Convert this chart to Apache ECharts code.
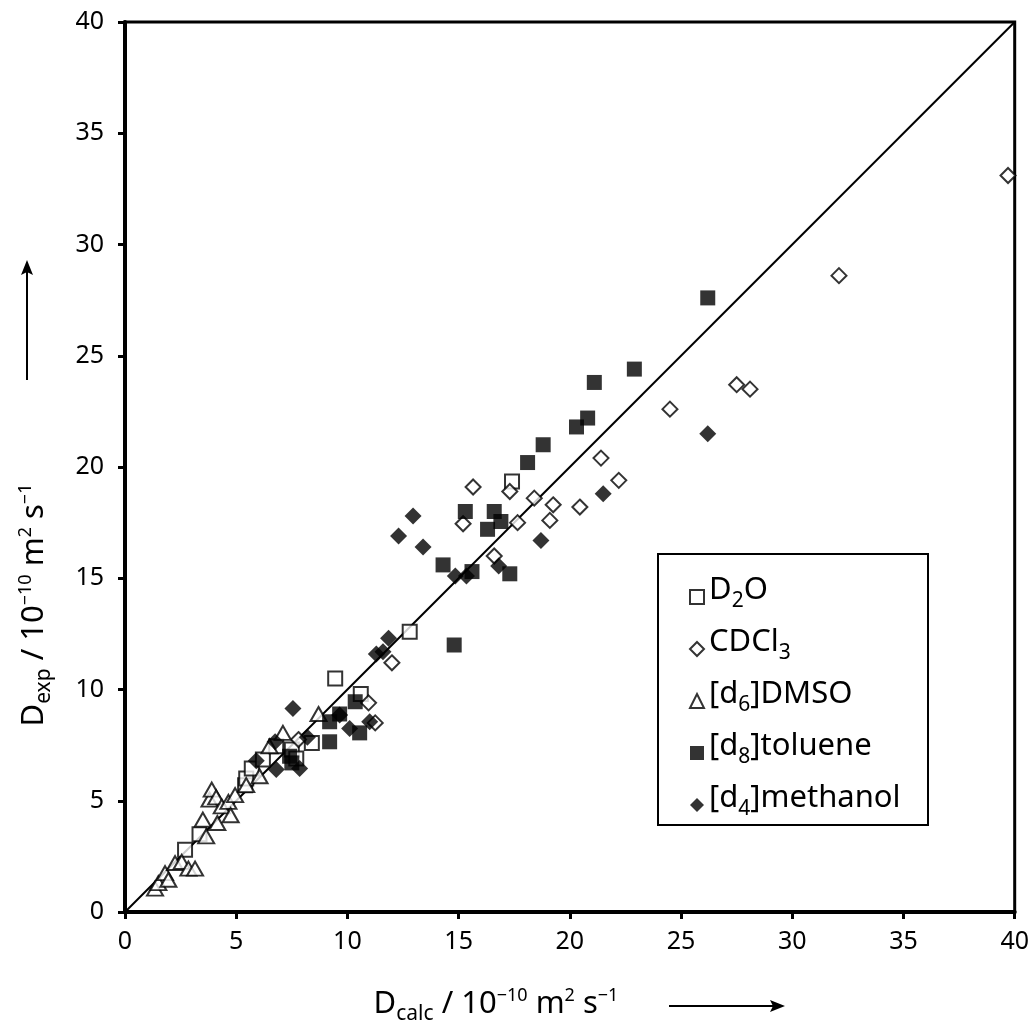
<!DOCTYPE html>
<html>
<head>
<meta charset="utf-8">
<script src="https://cdn.jsdelivr.net/npm/echarts@6/dist/echarts.min.js"></script>
<style>
  html, body { margin: 0; padding: 0; background: #ffffff; }
  #chart { width: 1032px; height: 1023px; }
</style>
</head>
<body>
<div id="chart"></div>
<script>
// Self-diffusion coefficients: [D_calc, D_exp] in 10^-10 m^2 s^-1
const d2oPoints = [
  [2.7, 2.8], [3.35, 3.5], [5.4, 5.7], [5.45, 6.0], [5.7, 6.45], [6.2, 6.85],
  [6.8, 7.45], [7.5, 7.3], [7.7, 6.9], [8.4, 7.6], [9.45, 10.5], [10.6, 9.8],
  [12.8, 12.6], [17.4, 19.35]
];
const cdcl3Points = [
  [7.8, 7.75], [10.95, 9.4], [11.25, 8.5], [12.0, 11.2], [15.2, 17.45], [15.65, 19.1],
  [16.6, 16.0], [17.3, 18.9], [17.65, 17.5], [18.4, 18.6], [19.1, 17.6], [19.25, 18.3],
  [20.45, 18.2], [21.4, 20.4], [22.2, 19.4], [24.5, 22.6], [27.5, 23.7], [28.1, 23.5],
  [32.1, 28.6], [39.7, 33.1]
];
const dmsoPoints = [
  [1.35, 1.05], [1.5, 1.3], [1.8, 1.75], [1.95, 1.45], [2.25, 2.2], [2.55, 2.25],
  [2.85, 1.95], [3.15, 1.95], [3.5, 4.15], [3.65, 3.4], [3.8, 5.05], [3.9, 5.5],
  [4.1, 5.15], [4.15, 4.0], [4.35, 4.75], [4.65, 4.95], [4.75, 4.35], [4.95, 5.25],
  [5.45, 5.7], [6.05, 6.1], [6.5, 7.45], [7.1, 8.05], [8.7, 8.9]
];
const toluenePoints = [
  [7.4, 7.0], [7.5, 6.7], [9.2, 7.65], [9.2, 8.55], [9.65, 8.9], [10.35, 9.45],
  [10.55, 8.05], [14.3, 15.6], [14.8, 12.0], [15.3, 18.0], [15.6, 15.3], [16.3, 17.2],
  [16.6, 18.0], [16.9, 17.55], [17.3, 15.2], [18.1, 20.2], [18.8, 21.0], [20.3, 21.8],
  [20.8, 22.2], [21.1, 23.8], [22.9, 24.4], [26.2, 27.6]
];
const methanolPoints = [
  [5.9, 6.8], [6.75, 7.65], [6.8, 6.4], [7.55, 9.15], [7.85, 6.45], [8.2, 7.85],
  [9.65, 8.85], [10.1, 8.25], [11.0, 8.55], [11.3, 11.6], [11.6, 11.7], [11.85, 12.3],
  [12.3, 16.9], [12.95, 17.8], [13.4, 16.4], [14.85, 15.1], [15.35, 15.1], [16.8, 15.55],
  [18.7, 16.7], [21.5, 18.8], [26.2, 21.5]
];
// y = x reference line
const identityLine = [[0, 0], [40, 40]];

// Axis range and tick step
const axisMin = 0;
const axisMax = 40;
const tickStep = 5;

// Series names and their rich-text legend labels
const seriesNames = ['D2O', 'CDCl3', '[d6]DMSO', '[d8]toluene', '[d4]methanol'];
const legendLabels = {
  'D2O': '{n|D}{sub|2}{n|O}',
  'CDCl3': '{n|CDCl}{sub|3}',
  '[d6]DMSO': '{n|[d}{sub|6}{n|]DMSO}',
  '[d8]toluene': '{n|[d}{sub|8}{n|]toluene}',
  '[d4]methanol': '{n|[d}{sub|4}{n|]methanol}'
};

const FONT = '"Noto Sans", "Open Sans", sans-serif';

const openStyle = { color: '#ffffff', borderColor: '#000000', borderWidth: 2 };
const filledStyle = { color: '#000000', borderColor: '#000000', borderWidth: 0 };

// Rich styles for axis titles (sub- and superscripts)
const titleRich = {
  n: { fontSize: 31, fontFamily: FONT, lineHeight: 31, padding: [4, 0, 0, 0], verticalAlign: 'top', color: '#000' },
  sub: { fontSize: 21, fontFamily: FONT, lineHeight: 21, padding: [19, 0, 0, 0], verticalAlign: 'top', color: '#000' },
  sup: { fontSize: 18, fontFamily: FONT, lineHeight: 18, padding: [2, 0, 0, 0], verticalAlign: 'top', color: '#000' }
};
const xTitleText = '{n|D}{sub|calc}{n| / 10}{sup|\u221210}{n| m}{sup|2}{n| s}{sup|\u22121}';
const yTitleText = '{n|D}{sub|exp}{n| / 10}{sup|\u221210}{n| m}{sup|2}{n| s}{sup|\u22121}';

const chart = echarts.init(document.getElementById('chart'), null, { renderer: 'canvas' });

function scatter(name, data, symbol, size, style) {
  return {
    name: name,
    type: 'scatter',
    data: data,
    symbol: symbol,
    symbolSize: size,
    itemStyle: style,
    emphasis: { disabled: true },
    z: 3
  };
}

const option = {
  backgroundColor: '#ffffff',
  animation: false,
  grid: {
    left: 125, top: 22, width: 890, height: 890,
    show: true, borderColor: '#000000', borderWidth: 3, backgroundColor: 'transparent'
  },
  xAxis: {
    type: 'value', min: axisMin, max: axisMax, interval: tickStep,
    axisLine: { show: true, lineStyle: { color: '#000', width: 4 } },
    axisTick: { show: true, length: 7, lineStyle: { color: '#000', width: 3 } },
    splitLine: { show: false },
    axisLabel: { color: '#000', fontSize: 25, fontFamily: FONT, margin: 17 }
  },
  yAxis: {
    type: 'value', min: axisMin, max: axisMax, interval: tickStep,
    axisLine: { show: true, lineStyle: { color: '#000', width: 4 } },
    axisTick: { show: true, length: 7, lineStyle: { color: '#000', width: 3 } },
    splitLine: { show: false },
    axisLabel: { color: '#000', fontSize: 25, fontFamily: FONT, margin: 21 }
  },
  legend: {
    orient: 'vertical',
    left: 689, top: 575,
    padding: 0,
    itemGap: 15,
    itemWidth: 14, itemHeight: 14,
    selectedMode: false,
    data: seriesNames,
    formatter: function (name) { return legendLabels[name]; },
    textStyle: {
      color: '#000',
      padding: [0, 0, 13, 0],
      rich: {
        n: { fontSize: 31, fontFamily: FONT, lineHeight: 31, verticalAlign: 'top', color: '#000' },
        sub: { fontSize: 21, fontFamily: FONT, lineHeight: 21, padding: [16, 0, 0, 0], verticalAlign: 'top', color: '#000' }
      }
    }
  },
  graphic: [
    { type: 'rect', shape: { x: 658, y: 554, width: 270, height: 271 },
      style: { fill: 'none', stroke: '#000', lineWidth: 2 }, z: 1 },
    { type: 'text', x: 496, y: 1000,
      style: { text: xTitleText, rich: titleRich, align: 'center', verticalAlign: 'middle', fill: '#000' } },
    { type: 'line', shape: { x1: 669, y1: 1006, x2: 776, y2: 1006 },
      style: { stroke: '#000', lineWidth: 2 } },
    { type: 'polygon', shape: { points: [[785, 1006], [770, 1000], [773, 1006], [770, 1012]] },
      style: { fill: '#000' } },
    { type: 'text', x: 30, y: 605, rotation: Math.PI / 2,
      style: { text: yTitleText, rich: titleRich, align: 'center', verticalAlign: 'middle', fill: '#000' } },
    { type: 'line', shape: { x1: 27, y1: 380, x2: 27, y2: 270 },
      style: { stroke: '#000', lineWidth: 2 } },
    { type: 'polygon', shape: { points: [[27, 260], [21, 275], [27, 272], [33, 275]] },
      style: { fill: '#000' } }
  ],
  series: [
    {
      name: 'identity', type: 'line', data: identityLine, symbol: 'none', silent: true,
      lineStyle: { color: '#000', width: 2 }, z: 2
    },
    scatter('D2O', d2oPoints, 'rect', 14, openStyle),
    scatter('CDCl3', cdcl3Points, 'diamond', 15, openStyle),
    scatter('[d6]DMSO', dmsoPoints, 'triangle', [16, 14], openStyle),
    scatter('[d8]toluene', toluenePoints, 'rect', 15, filledStyle),
    scatter('[d4]methanol', methanolPoints, 'diamond', 17, filledStyle)
  ]
};

chart.setOption(option);
</script>
</body>
</html>
